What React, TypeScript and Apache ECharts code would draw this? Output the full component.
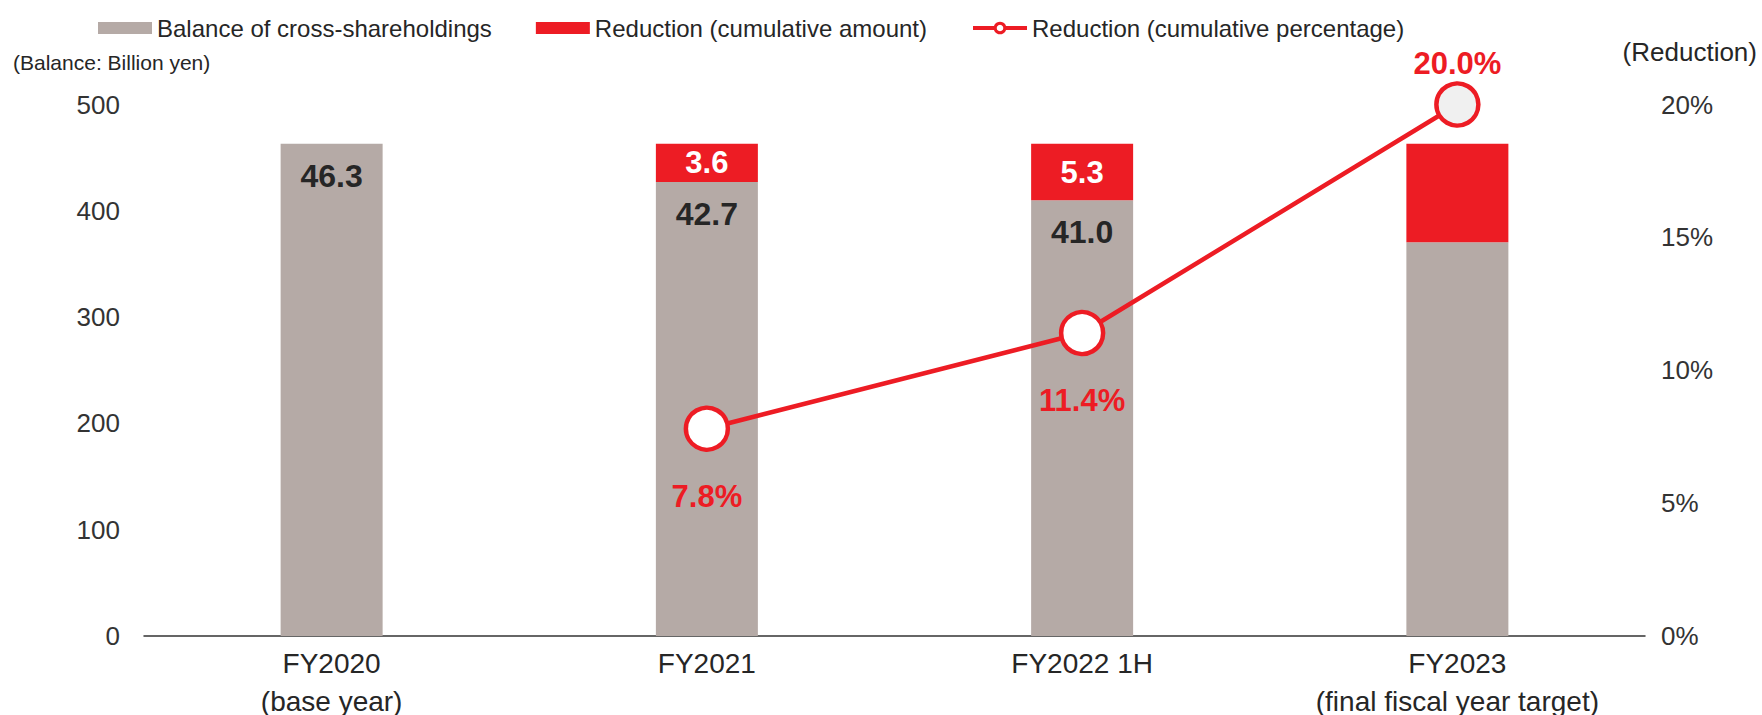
import React, { useEffect, useRef } from "react";
import * as echarts from "echarts";

const FONT = "'Liberation Sans', Arial, Helvetica, sans-serif";
const GRAY = "#b5aaa6";
const RED = "#ed1c24";
const DARK = "#262626";

const categories = ["FY2020\n(base year)", "FY2021", "FY2022 1H", "FY2023\n(final fiscal year target)"];
const balance = [463, 427, 410, 370.4];
const reduction = [0, 36, 53, 92.6];
const reductionPct: (number | null)[] = [null, 7.8, 11.4, 20.0];
const balanceLabelText = ["46.3", "42.7", "41.0", ""];
const reductionLabelText = ["", "3.6", "5.3", ""];
const leftTicks = { min: 0, max: 500, interval: 100 };
const rightTicks = { min: 0, max: 20, interval: 5 };

export default function App() {
  const ref = useRef<HTMLDivElement>(null);
  useEffect(() => {
    document.body.style.margin = "0";
    const chart = echarts.init(ref.current!, null, { renderer: "svg" });
    const lastIdx = reductionPct.length - 1;
    chart.setOption({
      animation: false,
      textStyle: { fontFamily: FONT },
      legend: {
        left: 93,
        top: 11,
        itemWidth: 54,
        itemHeight: 12,
        itemGap: 44,
        textStyle: { fontSize: 24, color: DARK, fontFamily: FONT },
        data: [
          { name: "Balance of cross-shareholdings", icon: "rect" },
          { name: "Reduction (cumulative amount)", icon: "rect" },
          {
            name: "Reduction (cumulative percentage)",
            lineStyle: { width: 4, color: RED },
            itemStyle: { color: "#fff", borderColor: RED, borderWidth: 3 },
          },
        ],
      },
      grid: { left: 144, right: 117, top: 104.5, bottom: 79, outerBoundsMode: "none" },
      graphic: [
        {
          type: "text",
          x: 13,
          y: 62,
          style: {
            text: "(Balance: Billion yen)",
            fontSize: 21,
            fontFamily: FONT,
            fill: DARK,
            align: "left",
            verticalAlign: "middle",
          },
        },
        {
          type: "text",
          x: 1757,
          y: 52,
          style: {
            text: "(Reduction)",
            fontSize: 26,
            fontFamily: FONT,
            fill: DARK,
            align: "right",
            verticalAlign: "middle",
          },
        },
      ],
      xAxis: {
        type: "category",
        data: categories,
        axisTick: { show: false },
        axisLine: { lineStyle: { color: "#333", width: 1.5 } },
        axisLabel: {
          interval: 0,
          fontSize: 28,
          lineHeight: 38,
          margin: 8,
          color: DARK,
          fontFamily: FONT,
        },
      },
      yAxis: [
        {
          type: "value",
          ...leftTicks,
          splitLine: { show: false },
          axisLine: { show: false },
          axisTick: { show: false },
          axisLabel: { fontSize: 26, color: "#333", margin: 24, fontFamily: FONT },
        },
        {
          type: "value",
          ...rightTicks,
          position: "right",
          splitLine: { show: false },
          axisLine: { show: false },
          axisTick: { show: false },
          axisLabel: { fontSize: 26, color: "#333", margin: 16, formatter: "{value}%", fontFamily: FONT },
        },
      ],
      series: [
        {
          name: "Balance of cross-shareholdings",
          type: "bar",
          stack: "total",
          barWidth: 102,
          itemStyle: { color: GRAY },
          label: {
            position: "insideTop",
            distance: 16,
            fontSize: 32,
            fontWeight: "bold",
            color: DARK,
            fontFamily: FONT,
          },
          data: balance.map((v, i) => ({
            value: v,
            label: { show: balanceLabelText[i] !== "", formatter: balanceLabelText[i] },
          })),
        },
        {
          name: "Reduction (cumulative amount)",
          type: "bar",
          stack: "total",
          barWidth: 102,
          itemStyle: { color: RED },
          label: {
            position: "inside",
            fontSize: 31,
            fontWeight: "bold",
            color: "#fff",
            fontFamily: FONT,
          },
          data: reduction.map((v, i) => ({
            value: v,
            label: { show: reductionLabelText[i] !== "", formatter: reductionLabelText[i] },
          })),
        },
        {
          name: "Reduction (cumulative percentage)",
          type: "line",
          yAxisIndex: 1,
          symbol: "circle",
          symbolSize: 42,
          lineStyle: { color: RED, width: 4.5 },
          itemStyle: { color: "#fff", borderColor: RED, borderWidth: 4.5 },
          label: {
            show: true,
            fontSize: 31,
            fontWeight: "bold",
            color: RED,
            fontFamily: FONT,
            formatter: (p: any) => Number(p.value).toFixed(1) + "%",
          },
          data: reductionPct.map((v, i) =>
            v == null
              ? "-"
              : {
                  value: v,
                  itemStyle: i === lastIdx ? { color: "#f0f0f0" } : undefined,
                  label:
                    i === lastIdx
                      ? { position: "top", distance: 2 }
                      : { position: "bottom", distance: 29 },
                }
          ),
        },
      ],
    });
    return () => chart.dispose();
  }, []);
  return <div ref={ref} style={{ width: 1762, height: 715 }} />;
}
